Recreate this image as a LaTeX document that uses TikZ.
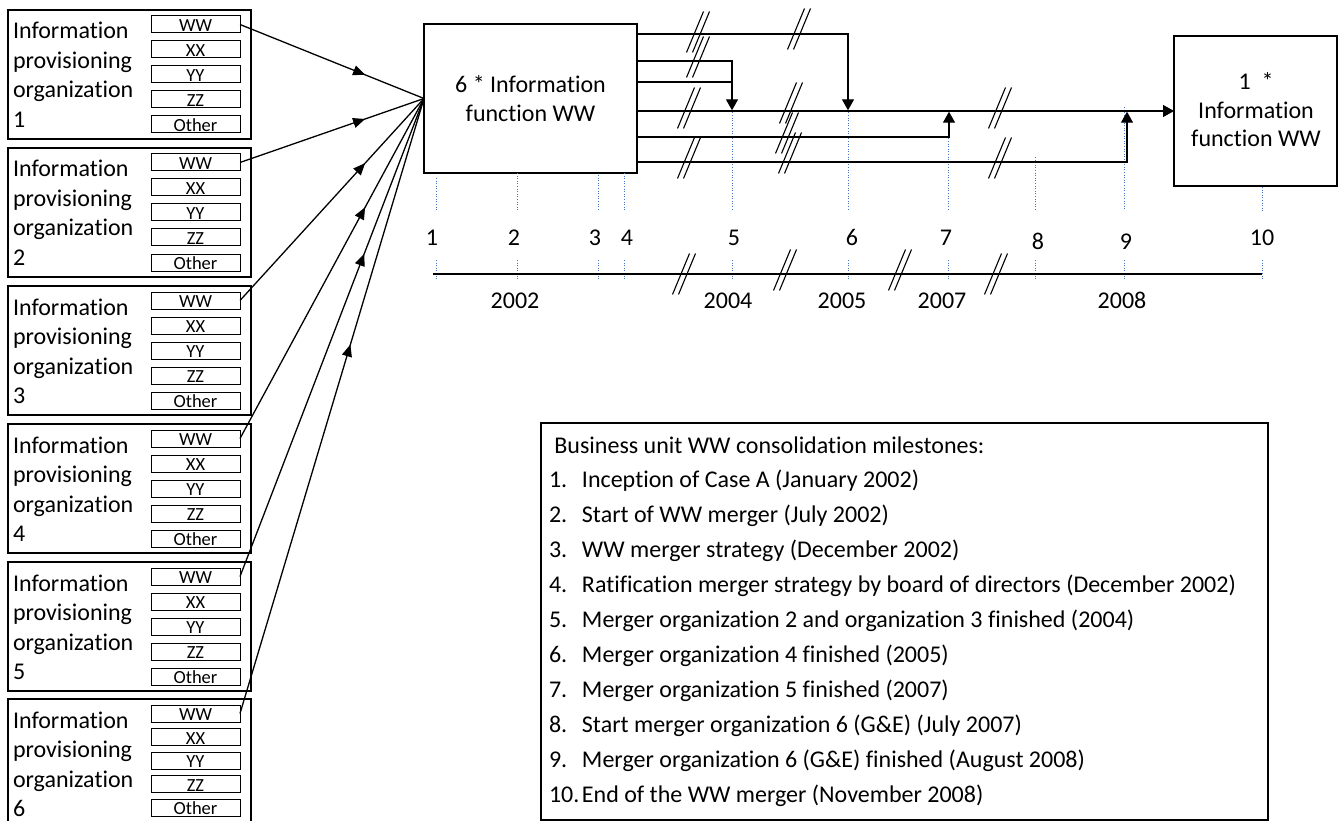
\documentclass[tikz,border=0pt]{standalone}
\usepackage{fontspec}
\setmainfont{Carlito}[Ligatures=CommonOff]
\usetikzlibrary{arrows.meta,decorations.markings}
\definecolor{guideblue}{HTML}{4472C4}

% stacked lines with a fixed baseline distance; the baseline of the
% whole block is the baseline of its first line
\newcommand\leftstack[2]{\vtop{\baselineskip=#1\lineskiplimit=-\maxdimen
  \halign{##\hfil\cr#2\crcr}}}
\newcommand\centerstack[2]{\vtop{\baselineskip=#1\lineskiplimit=-\maxdimen
  \halign{\hfil##\hfil\cr#2\crcr}}}
\newcommand\legendlist[1]{\vtop{\baselineskip=34.9pt\lineskiplimit=-\maxdimen
  \halign{\hbox to 33pt{##\hfil}&##\hfil\cr#1\crcr}}}
% double slash marking a break in a line
\newcommand\breakmark[2]{%
  \draw[slash] ({#1-11.5},{#2+20.5}) -- ({#1+5.5},{#2-20.5})
               ({#1-5.5},{#2+20.5}) -- ({#1+11.5},{#2-20.5});}

\begin{document}
\begin{tikzpicture}[x=1pt,y=-1pt,
  every node/.style={inner sep=0pt,outer sep=0pt},
  bigfont/.style={font=\fontsize{24}{29}\selectfont},
  frame/.style={draw,line width=1.3pt},
  orgbox/.style={frame,minimum width=243pt,minimum height=129pt,anchor=north west},
  unitbox/.style={draw,line width=1pt,minimum width=89pt,minimum height=17pt,
    text height=14.5pt,text depth=0pt,anchor=north west,
    font=\fontsize{18.5}{18.5}\selectfont},
  conn/.style={line width=1.3pt},
  >={Triangle[length=11pt,width=12pt]},
  midarrow/.style={postaction={decorate},decoration={markings,
    mark=at position #1 with {\arrow{Triangle[length=12pt,width=10pt]}}}},
  guide/.style={draw=guideblue,line width=1pt,dash pattern=on 1pt off 1.6pt},
  slash/.style={line width=1.1pt}]

\useasboundingbox (0,0) rectangle (1344,821);

% consolidated information function boxes
\node[frame,minimum width=213pt,minimum height=149pt] (main) at (530.5,98.5) {};
\node[bigfont,anchor=base] (maintext) at (530.5,93)
  {\centerstack{28.5pt}{6 * Information\cr function WW}};
\node[frame,minimum width=163pt,minimum height=150pt] (fin) at (1255.5,111) {};
\node[bigfont,anchor=base] (fintext) at (1256,90)
  {\centerstack{28.5pt}{1~~*\cr Information\cr function WW}};

% the six provisioning organizations
\foreach \i/\p/\ytop/\du in {1/0.68/10/25, 2/0.68/148/25, 3/0.68/286/25,
    4/0.68/424/25, 5/0.675/562/25, 6/0.6/699/23.5}{
  \node[orgbox] (org\i) at (8,\ytop) {};
  \node[bigfont,anchor=base west] (orgtext\i) at (13,{\ytop+29})
    {\leftstack{29.5pt}{Information\cr provisioning\cr organization\cr \i}};
  \foreach \j/\u in {0/WW,1/XX,2/YY,3/ZZ,4/Other}{
    \node[unitbox] (org\i-\u) at (151,{\ytop+6+\du*\j}) {\u};
  }
  \draw[conn,midarrow=\p] (org\i-WW.east) -- (main.west);
}

% milestone guides and numbers
\foreach \k/\x/\ys/\lx/\ly in {1/436/178/432/245, 2/517/173/514/245,
    3/598/175/595/245, 4/624/173/627/245, 5/732/102/734/245,
    6/848/102/852/245, 7/948/115/946/245, 8/1035/157/1038/249,
    9/1124/107/1126/249, 10/1262/187/1262/245}{
  \draw[guide] (\x,\ys) -- (\x,211);
  \draw[guide] (\x,260) -- (\x,279);
  \node[bigfont,anchor=base] (m\k) at (\lx,\ly) {\k};
}

% merger flows
\coordinate (a0) at (637,34);   \coordinate (a1) at (848,110.3);
\coordinate (b0) at (637,61);   \coordinate (b1) at (732,110.3);
\coordinate (c0) at (637,82);   \coordinate (c1) at (732,82);
\coordinate (e0) at (637,137);  \coordinate (e1) at (949,111.7);
\coordinate (f0) at (637,162);  \coordinate (f1) at (1127,111.7);
\draw[conn,->] (a0) -| (a1);
\draw[conn,->] (b0) -| (b1);
\draw[conn] (c0) -- (c1);
\draw[conn,->] (fin.west -| main.east) -- (fin.west);
\draw[conn,->] (e0) -| (e1);
\draw[conn,->] (f0) -| (f1);

% breaks in the flows
\breakmark{698}{32}  \breakmark{698}{57}
\breakmark{689}{108} \breakmark{689}{158}
\breakmark{799}{29}  \breakmark{791}{103}
\breakmark{787}{133} \breakmark{790}{153}
\breakmark{1000}{108} \breakmark{1000}{158}

% time axis
\coordinate (t0) at (433,274);
\coordinate (t1) at (1262,274);
\draw[conn] (t0) -- (t1);
\breakmark{684}{274} \breakmark{785}{270}
\breakmark{900}{270} \breakmark{996}{274}
\foreach \y/\x in {2002/515,2004/728,2005/842,2007/942,2008/1122}{
  \node[bigfont,anchor=base] (y\y) at (\x,308) {\y};
}

% milestone list
\node[frame,anchor=north west,minimum width=727pt,minimum height=397pt]
  (legend) at (541,423) {};
\node[bigfont,anchor=base west] (legendtext) at (549,453) {\legendlist{%
  \multispan2 Business unit WW consolidation milestones:\hfil\cr
  1.&Inception of Case A (January 2002)\cr
  2.&Start of WW merger (July 2002)\cr
  3.&WW merger strategy (December 2002)\cr
  4.&Ratification merger strategy by board of directors (December 2002)\cr
  5.&Merger organization 2 and organization 3 finished (2004)\cr
  6.&Merger organization 4 finished (2005)\cr
  7.&Merger organization 5 finished (2007)\cr
  8.&Start merger organization 6 (G\&E) (July 2007)\cr
  9.&Merger organization 6 (G\&E) finished (August 2008)\cr
  10.&End of the WW merger (November 2008)}};

\end{tikzpicture}
\end{document}
